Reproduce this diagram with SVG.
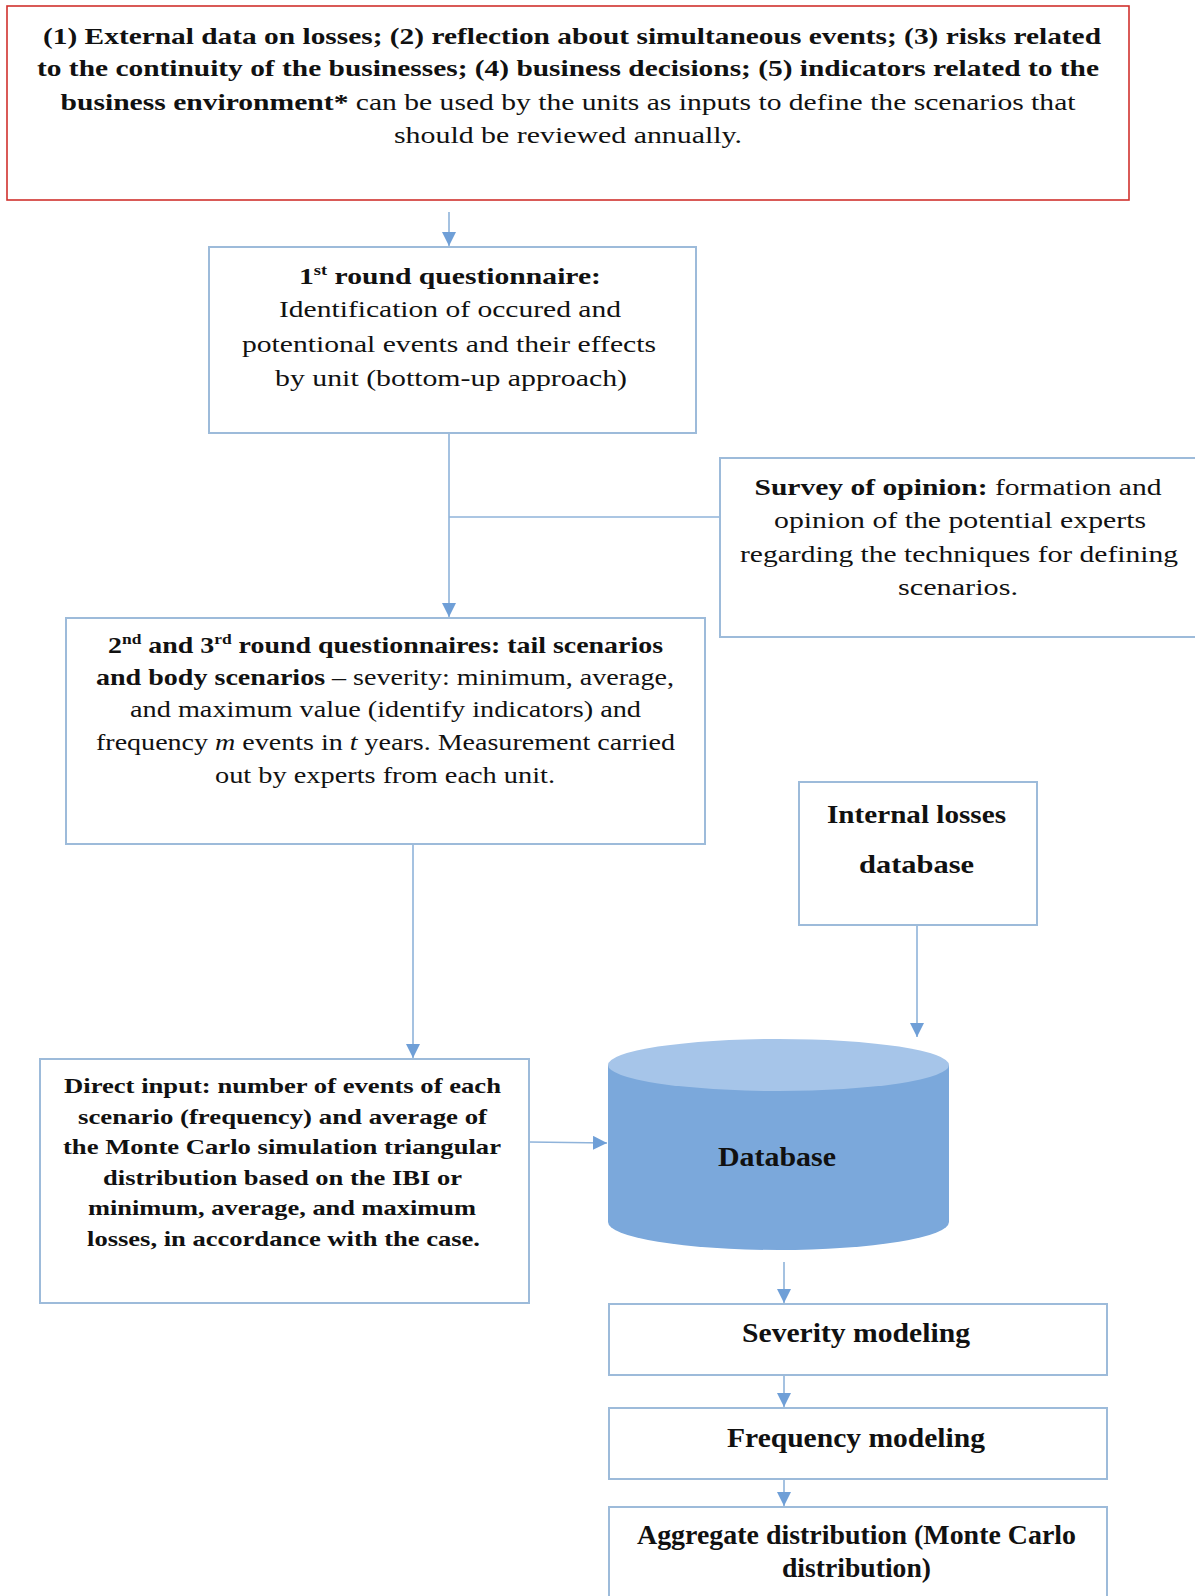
<svg xmlns="http://www.w3.org/2000/svg" width="1195" height="1596" viewBox="0 0 1195 1596">
<style>
text{font-family:"Liberation Serif","Times New Roman",serif;fill:#111;text-anchor:middle}
.b{font-weight:bold}
.box{fill:#fff;stroke:#9dbbda;stroke-width:2}
.c{fill:none;stroke:#8fb3da;stroke-width:1.6}
.sup{font-size:15px}
</style>
<defs>
<marker id="ah" viewBox="0 0 10 10" refX="10" refY="5" markerWidth="14" markerHeight="14" markerUnits="userSpaceOnUse" orient="auto">
<path d="M0,0 L10,5 L0,10 z" fill="#6f9fd7"/>
</marker>
</defs>
<rect width="1195" height="1596" fill="#fff"/>

<g id="connectors">
<line class="c" x1="449" y1="212" x2="449" y2="246" marker-end="url(#ah)"/>
<line class="c" x1="449" y1="433" x2="449" y2="617" marker-end="url(#ah)"/>
<line class="c" x1="449" y1="517" x2="720" y2="517"/>
<line class="c" x1="413" y1="844" x2="413" y2="1058" marker-end="url(#ah)"/>
<line class="c" x1="917" y1="925" x2="917" y2="1037" marker-end="url(#ah)"/>
<line class="c" x1="529" y1="1142" x2="607" y2="1143" marker-end="url(#ah)"/>
<line class="c" x1="784" y1="1262" x2="784" y2="1303" marker-end="url(#ah)"/>
<line class="c" x1="784" y1="1375" x2="784" y2="1407" marker-end="url(#ah)"/>
<line class="c" x1="784" y1="1479" x2="784" y2="1506" marker-end="url(#ah)"/>
</g>

<g id="n-inputs">
<rect x="7" y="6" width="1122" height="194" fill="#fff" stroke="#d0312d" stroke-width="1.6"/>
<text class="b" x="572" y="44" font-size="24" textLength="1058" lengthAdjust="spacingAndGlyphs">(1) External data on losses; (2) reflection  about simultaneous events; (3) risks related</text>
<text class="b" x="568" y="76" font-size="24" textLength="1062" lengthAdjust="spacingAndGlyphs">to the continuity of the businesses; (4) business decisions; (5) indicators related to the</text>
<text x="568" y="110" font-size="24" textLength="1015" lengthAdjust="spacingAndGlyphs"><tspan class="b">business environment*</tspan> can be used by the units as inputs to define the scenarios that</text>
<text x="568" y="143" font-size="24" textLength="348" lengthAdjust="spacingAndGlyphs">should be reviewed annually.</text>
</g>

<g id="n-round1">
<rect class="box" x="209" y="247" width="487" height="186"/>
<text x="450" y="284" font-size="24" textLength="302" lengthAdjust="spacingAndGlyphs"><tspan class="b">1<tspan class="sup" dy="-9">st</tspan><tspan dy="9"> round questionnaire:</tspan></tspan></text>
<text x="450" y="317" font-size="24" textLength="342" lengthAdjust="spacingAndGlyphs">Identification of occured and</text>
<text x="449" y="352" font-size="24" textLength="414" lengthAdjust="spacingAndGlyphs">potentional events and their effects</text>
<text x="451" y="386" font-size="24" textLength="352" lengthAdjust="spacingAndGlyphs">by unit (bottom-up approach)</text>
</g>

<g id="n-survey">
<rect class="box" x="720" y="458" width="480" height="179"/>
<text x="958" y="495" font-size="24" textLength="407" lengthAdjust="spacingAndGlyphs"><tspan class="b">Survey of opinion:</tspan> formation and</text>
<text x="960" y="528" font-size="24" textLength="372" lengthAdjust="spacingAndGlyphs">opinion of the potential experts</text>
<text x="959" y="562" font-size="24" textLength="438" lengthAdjust="spacingAndGlyphs">regarding the techniques for defining</text>
<text x="958" y="595" font-size="24" textLength="120" lengthAdjust="spacingAndGlyphs">scenarios.</text>
</g>

<g id="n-round23">
<rect class="box" x="66" y="618" width="639" height="226"/>
<text class="b" x="385.5" y="653" font-size="24" textLength="555" lengthAdjust="spacingAndGlyphs">2<tspan class="sup" dy="-9">nd</tspan><tspan dy="9"> and 3</tspan><tspan class="sup" dy="-9">rd</tspan><tspan dy="9"> round questionnaires: tail scenarios</tspan></text>
<text x="385" y="685" font-size="24" textLength="578" lengthAdjust="spacingAndGlyphs"><tspan class="b">and body scenarios</tspan> – severity: minimum, average,</text>
<text x="385.5" y="717" font-size="24" textLength="511" lengthAdjust="spacingAndGlyphs">and maximum value (identify indicators) and</text>
<text x="385.5" y="750" font-size="24" textLength="579" lengthAdjust="spacingAndGlyphs">frequency <tspan font-style="italic">m</tspan> events in <tspan font-style="italic">t</tspan> years. Measurement carried</text>
<text x="385" y="783" font-size="24" textLength="340" lengthAdjust="spacingAndGlyphs">out by experts from each unit.</text>
</g>

<g id="n-internal">
<rect class="box" x="799" y="782" width="238" height="143"/>
<text class="b" x="916.5" y="823" font-size="26" textLength="179" lengthAdjust="spacingAndGlyphs">Internal losses</text>
<text class="b" x="916.5" y="873" font-size="26" textLength="115" lengthAdjust="spacingAndGlyphs">database</text>
</g>

<g id="n-direct">
<rect class="box" x="40" y="1059" width="489" height="244"/>
<text class="b" x="282.5" y="1093" font-size="22" textLength="437" lengthAdjust="spacingAndGlyphs">Direct input: number  of events of each</text>
<text class="b" x="282.5" y="1124" font-size="22" textLength="409" lengthAdjust="spacingAndGlyphs">scenario (frequency) and average of</text>
<text class="b" x="282" y="1154" font-size="22" textLength="438" lengthAdjust="spacingAndGlyphs">the Monte Carlo simulation triangular</text>
<text class="b" x="282.5" y="1185" font-size="22" textLength="359" lengthAdjust="spacingAndGlyphs">distribution based on the IBI or</text>
<text class="b" x="282" y="1215" font-size="22" textLength="388" lengthAdjust="spacingAndGlyphs">minimum, average, and maximum</text>
<text class="b" x="283.5" y="1246" font-size="22" textLength="393" lengthAdjust="spacingAndGlyphs">losses, in accordance with the case.</text>
</g>

<g id="n-database">
<path d="M608,1065 L608,1222 A170.5,28 0 0 0 949,1222 L949,1065 Z" fill="#7ba8db"/>
<ellipse cx="778.5" cy="1065" rx="170.5" ry="26" fill="#a6c5e9"/>
<text class="b" x="777" y="1166" font-size="27" textLength="118" lengthAdjust="spacingAndGlyphs">Database</text>
</g>

<g id="n-severity">
<rect class="box" x="609" y="1304" width="498" height="71"/>
<text class="b" x="856" y="1342" font-size="27" textLength="228" lengthAdjust="spacingAndGlyphs">Severity modeling</text>
</g>

<g id="n-frequency">
<rect class="box" x="609" y="1408" width="498" height="71"/>
<text class="b" x="856" y="1447" font-size="27" textLength="258" lengthAdjust="spacingAndGlyphs">Frequency modeling</text>
</g>

<g id="n-aggregate">
<rect class="box" x="609" y="1507" width="498" height="100"/>
<text class="b" x="856.5" y="1544" font-size="27" textLength="439" lengthAdjust="spacingAndGlyphs">Aggregate distribution (Monte Carlo</text>
<text class="b" x="856.5" y="1577" font-size="27" textLength="149" lengthAdjust="spacingAndGlyphs">distribution)</text>
</g>
</svg>
